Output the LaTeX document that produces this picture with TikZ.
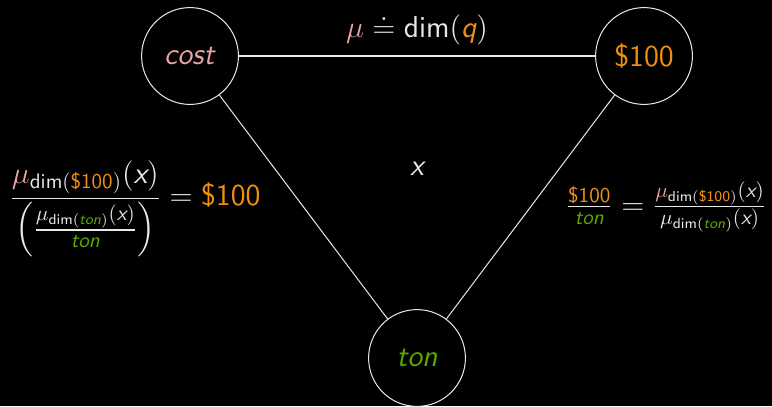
\documentclass[tikz,border=0pt]{standalone}
\usepackage{amsmath}
\usepackage{fontspec}
\usetikzlibrary{positioning}
\definecolor{c1}{HTML}{000000}
\definecolor{c2}{HTML}{E8E8E8}
\definecolor{costcolor}{HTML}{EBA3A3}
\definecolor{usdcolor}{HTML}{F0900F}
\definecolor{toncolor}{HTML}{5CA800}

\newcommand{\vx}{\textsf{\itshape x}}
\newcommand{\vq}{\textcolor{usdcolor}{\textsf{\itshape q}}}
\newcommand{\dimop}{\textsf{dim}}
\newcommand{\cst}{\textcolor{costcolor}{\textsf{\itshape cost}}}
\newcommand{\usd}{\textcolor{usdcolor}{\textsf{\$100}}}
\newcommand{\tn}{\textcolor{toncolor}{\textsf{\itshape ton}}}
\newcommand{\mucost}{\textcolor{costcolor}{\mu}}

\begin{document}
\begin{tikzpicture}[
    x=0.475pt, y=-0.475pt,
    every node/.style={font=\Large\sffamily, text=c2},
    unit/.style={circle, draw=c2, line width=0.48pt, minimum size=46pt,
                 inner sep=0pt},
    edge/.style={draw=c2, line width=0.48pt},
    lab/.style={inner sep=1pt},
]
\fill[c1] (0,0) rectangle (772,406);

% ================================================== the three units
\node[unit] (cost) at (190,56) {\cst};
\node[unit] (usd)  at (644,56) {\usd};
\node[unit] (ton)  at (417,358) {\tn};

% ================================================== the connections
\draw[edge] (cost) -- (usd)
  node[lab, midway, above=4pt] (mu) {$\mucost \doteq \dimop(\vq)$};
\draw[edge] (cost) -- (ton);
\draw[edge] (usd) -- (ton);

\node[lab] (qty) at (417,169) {$\vx$};

% ================================================== the two ratios
\node[lab] (left) at (135,209)
  {$\displaystyle \frac{\mucost_{\dimop(\usd)}(\vx)}
    {\left(\frac{\mu_{\dimop(\tn)}(\vx)}{\tn}\right)} = \usd$};
\node[lab] (right) at (666,207)
  {$\frac{\usd}{\tn} = \frac{\mucost_{\dimop(\usd)}(\vx)}{\mu_{\dimop(\tn)}(\vx)}$};

\end{tikzpicture}
\end{document}
